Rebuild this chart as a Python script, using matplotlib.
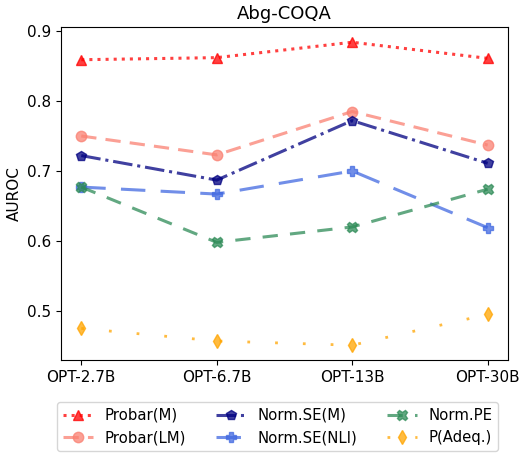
import numpy as np
import matplotlib
matplotlib.use("Agg")
import matplotlib.pyplot as plt

models = ['OPT-2.7B', 'OPT-6.7B', 'OPT-13B', 'OPT-30B']

probar_m = [0.859, 0.862, 0.884, 0.861]
probar_lm = [0.750, 0.723, 0.785, 0.737]
norm_se_m = [0.722, 0.687, 0.772, 0.711]
norm_se_nli = [0.677, 0.667, 0.700, 0.619]
norm_pe = [0.677, 0.598, 0.620, 0.674]
p_adeq = [0.475, 0.457, 0.451, 0.495]

plt.rcParams['font.size'] = 11

x = np.arange(len(models))

fig = plt.figure(figsize=(5.21, 4.55), dpi=100)
ax = fig.add_axes([0.117, 0.209, 0.858, 0.732])

ax.plot(x, probar_m, color='red', linestyle=':', marker='^', lw=2.2, ms=7.5, alpha=0.75, label='Probar(M)')
ax.plot(x, probar_lm, color='salmon', linestyle=(0, (5, 3)), marker='o', lw=2.2, ms=7.5, alpha=0.75, label='Probar(LM)')
ax.plot(x, norm_se_m, color='navy', linestyle='-.', marker='p', lw=2.2, ms=7.5, alpha=0.75, label='Norm.SE(M)')
ax.plot(x, norm_se_nli, color='royalblue', linestyle=(0, (8, 5)), marker='P', lw=2.2, ms=7.5, alpha=0.75, label='Norm.SE(NLI)')
ax.plot(x, norm_pe, color='seagreen', linestyle=(0, (5, 4)), marker='X', lw=2.2, ms=7.5, alpha=0.75, label='Norm.PE')
ax.plot(x, p_adeq, color='orange', linestyle=(0, (1, 9)), marker='d', lw=2.0, ms=7.5, alpha=0.75, label='P(Adeq.)')

ax.set_xticks(x)
ax.set_xticklabels(models)
ax.set_xlim(-0.15, 3.15)
ax.set_ylim(0.43, 0.906)
ax.set_yticks([0.5, 0.6, 0.7, 0.8, 0.9])
ax.set_ylabel('AUROC')
ax.set_title('Abg-COQA', fontsize=13)

fig.legend(loc='lower center', bbox_to_anchor=(0.533, -0.008), ncol=3, fontsize=10.7)

fig.savefig('out.png', dpi=100)
